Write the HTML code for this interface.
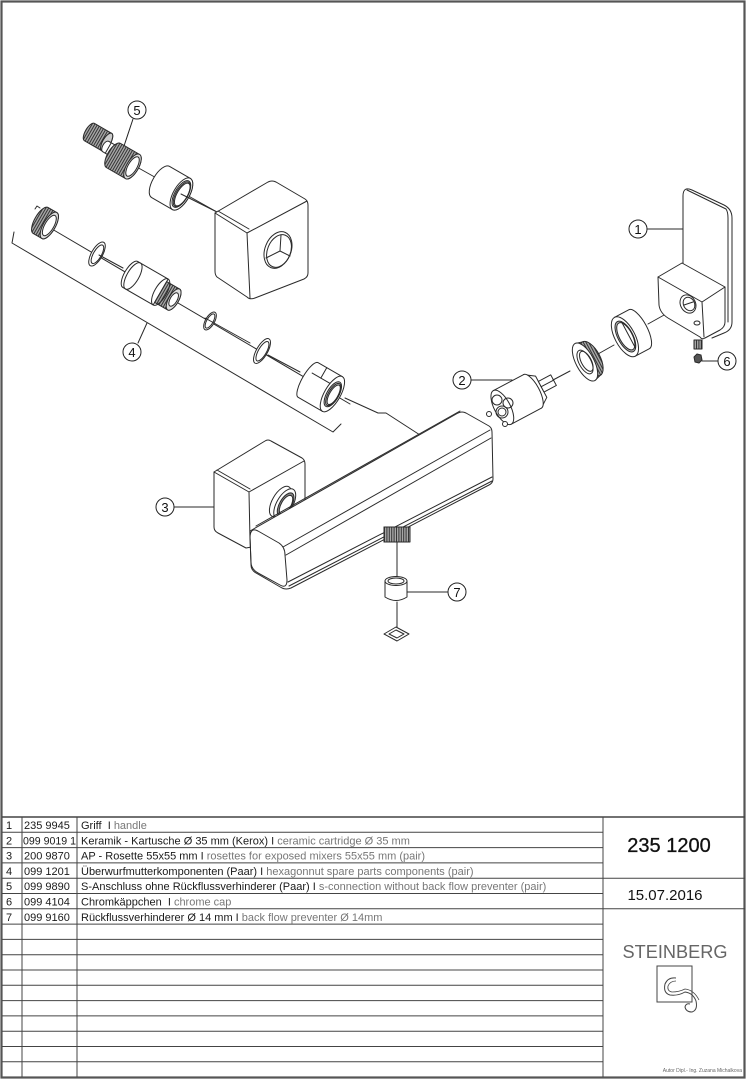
<!DOCTYPE html>
<html><head><meta charset="utf-8"><style>
html,body{margin:0;padding:0;background:#fff;}
svg{display:block;}
text{font-family:"Liberation Sans",Arial,sans-serif;}
</style></head><body>
<svg width="747" height="1080" viewBox="0 0 747 1080" xmlns="http://www.w3.org/2000/svg">
<defs>
<pattern id="th" width="2.4" height="4" patternUnits="userSpaceOnUse">
<rect width="2.4" height="4" fill="#a8a8a8"/><rect width="1" height="4" fill="#333"/>
</pattern>
</defs>
<rect x="0" y="0" width="747" height="1080" fill="#fff"/>
<rect x="1.5" y="1.5" width="743" height="1076" fill="none" stroke="#555" stroke-width="2.2"/>

<g fill="none" stroke="#2a2a2a" stroke-width="1" stroke-linejoin="round" stroke-linecap="round">
<!-- ===== Part 5 ===== -->
<line x1="135" y1="166" x2="217" y2="212"/>
<g transform="translate(98,137) rotate(30)">
<path d="M-10,-10 L10,-10 A4 10 0 0 1 10,10 L-10,10 A4 10 0 0 1 -10,-10 Z" fill="url(#th)"/>
<ellipse cx="10" cy="0" rx="4" ry="10" fill="#ccc"/>
</g>
<g transform="translate(110,149) rotate(30)">
<path d="M-5,-6 L5,-6 A3 6 0 0 1 5,6 L-5,6 A3 6 0 0 1 -5,-6 Z" fill="#fff"/>
<line x1="-2" y1="-6" x2="-2" y2="6"/>
</g>
<g transform="translate(123,161) rotate(30)">
<path d="M-11,-14 L11,-14 A6 14 0 0 1 11,14 L-11,14 A6 14 0 0 1 -11,-14 Z" fill="url(#th)"/>
<ellipse cx="11" cy="0" rx="6" ry="14" fill="#ddd"/>
<ellipse cx="11" cy="0" rx="4.5" ry="11" fill="#fff"/>
</g>
<g transform="translate(171,188) rotate(30)">
<path d="M-12,-18 L12,-18 A8 18 0 0 1 12,18 L-12,18 A8 18 0 0 1 -12,-18 Z" fill="#fff"/>
<ellipse cx="12" cy="0" rx="8" ry="18" fill="#fff"/>
<ellipse cx="12" cy="0" rx="6.5" ry="15" fill="#fff"/>
<ellipse cx="12.5" cy="0" rx="5.8" ry="13.8"/>
<ellipse cx="13" cy="0" rx="5.2" ry="12.8"/>
</g>
<line x1="181" y1="194" x2="217" y2="212"/>

<!-- upper rosette cube -->
<path d="M215,213 L268,182 Q272,180 276,182 L305,199 Q308,201 308,205 L308,273 Q308,277 304,279 L255,298 Q250,300 247,297 L217,277 Q215,275 215,271 Z" fill="#fff"/>
<path d="M215,213 L247,233 L307,201"/>
<path d="M218,211 L249,229"/>
<path d="M247,233 L250,298"/>
<ellipse cx="278" cy="250" rx="13" ry="19" transform="rotate(22 278 250)" fill="#fff"/>
<ellipse cx="279" cy="251" rx="11.5" ry="17" transform="rotate(22 279 251)"/>
<path d="M266,258 L280,251 L290,256 M280,251 L281,235"/>

<!-- ===== Part 4 ===== -->
<path d="M14,232 L12,243 L333,432 L341,424"/>
<line x1="138" y1="343" x2="147" y2="323"/>
<line x1="52" y1="229" x2="350" y2="404"/>
<g transform="translate(45,223) rotate(30)">
<path d="M-5,-15 L5,-15 A6 15 0 0 1 5,15 L-5,15 A6 15 0 0 1 -5,-15 Z" fill="url(#th)"/>
<ellipse cx="5" cy="0" rx="6" ry="15" fill="#ddd"/>
<ellipse cx="5" cy="0" rx="4.5" ry="11.5" fill="#fff"/>
</g>
<path d="M35,209 L37,206 L40,208" />
<g transform="translate(97,254) rotate(30)">
<ellipse cx="0" cy="0" rx="5.5" ry="13.5" fill="#fff"/>
<ellipse cx="0.5" cy="0" rx="4" ry="10.5" fill="#fff"/>
</g>
<line x1="99" y1="255" x2="123" y2="268"/>
<g transform="translate(152,287) rotate(30)">
<path d="M-25,-15 L10,-15 L10,15 L-25,15 A6 15 0 0 1 -25,-15 Z" fill="#fff"/>
<ellipse cx="-22" cy="0" rx="6" ry="15"/>
<path d="M10,-12 L25,-12 A5 12 0 0 1 25,12 L10,12 Z" fill="url(#th)"/>
<ellipse cx="10" cy="0" rx="6" ry="15"/>
<ellipse cx="25" cy="0" rx="5" ry="12" fill="#ddd"/>
<ellipse cx="25" cy="0" rx="3.5" ry="7.5" fill="#fff"/>
</g>
<g transform="translate(210,321) rotate(30)">
<ellipse cx="0" cy="0" rx="4.5" ry="10" fill="#fff"/>
<ellipse cx="0" cy="0" rx="3.2" ry="8"/>
</g>
<line x1="205" y1="318" x2="250" y2="343"/>
<g transform="translate(262,351) rotate(30)">
<ellipse cx="0" cy="0" rx="5.5" ry="14" fill="#fff"/>
<ellipse cx="0.5" cy="0" rx="4" ry="11"/>
</g>
<line x1="268" y1="355" x2="300" y2="372"/>
<g transform="translate(322,388) rotate(30)">
<path d="M-16,-20 L12,-20 L12,20 L-16,20 A6 20 0 0 1 -16,-20 Z" fill="#fff"/>
<line x1="-16" y1="-8" x2="12" y2="-8"/>
<line x1="-6" y1="-20" x2="-6" y2="-8"/>
<ellipse cx="12" cy="0" rx="8" ry="20" fill="#fff"/>
<ellipse cx="12.5" cy="0" rx="6" ry="14" fill="#ccc"/>
<ellipse cx="13" cy="0" rx="5" ry="12.5"/>
<ellipse cx="13.5" cy="0" rx="4.2" ry="11" fill="#fff"/>
</g>

<!-- body behind bar -->
<path d="M345,398 L378,413 L386,413 L420,435"/>

<!-- ===== lower rosette 3 ===== -->
<path d="M214,472 L265,441 Q268,439 271,441 L302,458 Q305,460 305,464 L305,505 L290,540 L246,548 L218,533 Q214,531 214,527 Z" fill="#fff"/>
<path d="M214,472 L249,492 L304,461"/>
<path d="M249,492 L250,540"/>
<path d="M217,470 L250,489"/>
<g transform="translate(283,503) rotate(30)">
<ellipse cx="-3" cy="0" rx="8" ry="17" fill="#fff"/>
<ellipse cx="2" cy="0" rx="8" ry="17" fill="#fff"/>
<ellipse cx="3" cy="0" rx="6" ry="13" fill="#888"/>
<ellipse cx="3.5" cy="0" rx="4.8" ry="10.5" fill="#fff"/>
</g>
<line x1="173" y1="507" x2="214" y2="507"/>

<!-- ===== main bar ===== -->
<path d="M250,531 L458,413 Q462,411 466,413 L489,426 Q492,428 492,432 L493,479 Q493,483 489,485 L291,588 Q286,590 282,588 L256,573 Q251,570 251,565 L250,536 Q250,532 250,531 Z" fill="#fff"/>
<path d="M258,531 L279,543 Q285,547 285,555 L287,580 Q287,589 280,585 L258,573 Q251,569 251,562 L250,538 Q250,527 258,531 Z"/>
<line x1="256" y1="526" x2="460" y2="411"/>
<line x1="283" y1="547" x2="490" y2="430"/>
<line x1="286" y1="555" x2="491" y2="438"/>
<line x1="288" y1="582" x2="492" y2="477"/>
<line x1="289" y1="586" x2="492" y2="481"/>

<!-- outlet + part 7 -->
<rect x="384" y="527" width="26" height="15" fill="url(#th)"/>
<line x1="384" y1="527" x2="384" y2="542"/><line x1="410" y1="527" x2="410" y2="540"/>
<line x1="397" y1="542" x2="397" y2="578"/>
<path d="M385,581 L385,597 Q396,604 407,597 L407,581" fill="#fff"/>
<ellipse cx="396" cy="581" rx="11" ry="4.5" fill="#fff"/>
<ellipse cx="396" cy="581" rx="8" ry="3"/>
<line x1="407" y1="592" x2="448" y2="592"/>
<line x1="397" y1="602" x2="397" y2="629"/>
<path d="M384,634 L396,627 L409,634 L397,641 Z" fill="#fff"/>
<path d="M389,634 L396,630 L404,634 L397,638 Z"/>

<!-- ===== cartridge 2 ===== -->
<line x1="470" y1="380" x2="512" y2="380"/>
<g transform="translate(520,398) rotate(-28)">
<path d="M14,-19 L24,-12 L24,12 L14,19 Z" fill="#fff"/>
<rect x="24" y="-6" width="14" height="12" fill="#fff"/>
<line x1="24" y1="0" x2="38" y2="0"/>
<path d="M-20,-19 L14,-19 A7 19 0 0 1 14,19 L-20,19 Z" fill="#fff"/>
<ellipse cx="-20" cy="0" rx="8" ry="19" fill="#fff"/>
</g>
<ellipse cx="497" cy="400" rx="5" ry="5"/>
<ellipse cx="508" cy="403" rx="5" ry="5"/>
<ellipse cx="502" cy="412" rx="6" ry="6"/>
<ellipse cx="502" cy="412" rx="4" ry="4"/>
<circle cx="489" cy="414" r="2.5" fill="#fff"/>
<circle cx="505" cy="424" r="2.5" fill="#fff"/>
<line x1="553" y1="380" x2="570" y2="371"/>

<!-- flange washer -->
<g transform="translate(585,362) rotate(-28)">
<ellipse cx="7" cy="0" rx="9" ry="19" fill="url(#th)"/>
<path d="M0,-21 L7,-19 M0,21 L7,19"/>
<ellipse cx="0" cy="0" rx="9" ry="21" fill="#fff"/>
<ellipse cx="0" cy="0" rx="6" ry="13" fill="#fff"/>
<ellipse cx="1.5" cy="0" rx="5" ry="11"/>
</g>
<line x1="598" y1="354" x2="614" y2="345"/>

<!-- ring nut -->
<g transform="translate(632,333) rotate(-28)">
<path d="M-8,-22 L8,-22 A8 22 0 0 1 8,22 L-8,22 Z" fill="#fff"/>
<ellipse cx="-8" cy="0" rx="10" ry="22" fill="#fff"/>
<ellipse cx="-7.5" cy="0" rx="7.5" ry="17" fill="#bbb"/>
<ellipse cx="-7" cy="0" rx="6.5" ry="15" fill="#fff"/>
<line x1="-4" y1="-15" x2="-4" y2="15"/>
</g>
<line x1="648" y1="324" x2="682" y2="305"/>

<!-- ===== handle 1 ===== -->
<path d="M683,268 L683,196 Q683,186 692,190 L724,205 Q732,209 732,218 L732,322 Q732,330 724,333 L712,338" fill="#fff"/>
<path d="M687,190 L726,209 Q728,212 728,218 L728,322"/>
<line x1="647" y1="229" x2="683" y2="229"/>
<path d="M658,277 L682,263 L725,287 L725,322 Q725,327 720,330 L705,338 Q702,340 700,337 L668,318 Q660,313 659,305 Z" fill="#fff"/>
<path d="M658,277 L702,302 L725,287 M702,302 L704,337"/>
<ellipse cx="688" cy="304" rx="7.5" ry="9.5" transform="rotate(-28 688 304)" fill="#fff"/>
<ellipse cx="689" cy="304" rx="5.5" ry="7" transform="rotate(-28 689 304)"/>
<path d="M684,305 L693,302"/>
<ellipse cx="697" cy="323" rx="3" ry="2"/>
<rect x="694" y="340" width="8" height="9" fill="url(#th)"/>
<path d="M694,357 L697,354 L701,355 L702,360 L699,363 L695,362 Z" fill="#555"/>
<line x1="702" y1="361" x2="718" y2="361"/>
</g>

<!-- labels -->
<g fill="#fff" stroke="#222" stroke-width="1">
<circle cx="638" cy="229" r="9"/>
<circle cx="462" cy="380" r="9"/>
<circle cx="165" cy="507" r="9"/>
<circle cx="132" cy="352" r="9"/>
<circle cx="137" cy="110" r="9"/>
<circle cx="727" cy="361" r="9"/>
<circle cx="457" cy="592" r="9"/>
</g>
<line x1="133" y1="119" x2="124" y2="146" stroke="#222" stroke-width="1"/>
<g font-size="13" text-anchor="middle" fill="#111">
<text x="638" y="234">1</text>
<text x="462" y="385">2</text>
<text x="165" y="512">3</text>
<text x="132" y="357">4</text>
<text x="137" y="115">5</text>
<text x="727" y="366">6</text>
<text x="457" y="597">7</text>
</g>

<!-- ===== table ===== -->
<g stroke="#444" stroke-width="1">
<line x1="2" y1="817" x2="745" y2="817" stroke-width="1.5"/>
<line x1="2" y1="832.3" x2="603" y2="832.3"/>
<line x1="2" y1="847.6" x2="603" y2="847.6"/>
<line x1="2" y1="862.9" x2="603" y2="862.9"/>
<line x1="2" y1="878.2" x2="745" y2="878.2"/>
<line x1="2" y1="893.5" x2="603" y2="893.5"/>
<line x1="2" y1="908.8" x2="745" y2="908.8"/>
<line x1="2" y1="924.1" x2="603" y2="924.1"/>
<line x1="2" y1="939.4" x2="603" y2="939.4"/>
<line x1="2" y1="954.7" x2="603" y2="954.7"/>
<line x1="2" y1="970" x2="603" y2="970"/>
<line x1="2" y1="985.3" x2="603" y2="985.3"/>
<line x1="2" y1="1000.6" x2="603" y2="1000.6"/>
<line x1="2" y1="1015.9" x2="603" y2="1015.9"/>
<line x1="2" y1="1031.2" x2="603" y2="1031.2"/>
<line x1="2" y1="1046.5" x2="603" y2="1046.5"/>
<line x1="2" y1="1061.8" x2="603" y2="1061.8"/>
<line x1="22" y1="817" x2="22" y2="1077"/>
<line x1="77" y1="817" x2="77" y2="1077"/>
<line x1="603" y1="817" x2="603" y2="1077"/>
</g>
<g font-size="11" fill="#1a1a1a">
<text x="6" y="829">1</text><text x="24" y="829">235 9945</text>
<text x="81" y="829">Griff&#160; I <tspan fill="#777">handle</tspan></text>
<text x="6" y="844.3">2</text><text x="23" y="844.3" textLength="53" lengthAdjust="spacingAndGlyphs">099 9019 1</text>
<text x="81" y="844.3">Keramik - Kartusche Ø 35 mm (Kerox) I <tspan fill="#777">ceramic cartridge Ø 35 mm</tspan></text>
<text x="6" y="859.6">3</text><text x="24" y="859.6">200 9870</text>
<text x="81" y="859.6">AP - Rosette 55x55 mm I <tspan fill="#777">rosettes for exposed mixers 55x55 mm (pair)</tspan></text>
<text x="6" y="874.9">4</text><text x="24" y="874.9">099 1201</text>
<text x="81" y="874.9">Überwurfmutterkomponenten (Paar) I <tspan fill="#777">hexagonnut spare parts components (pair)</tspan></text>
<text x="6" y="890.2">5</text><text x="24" y="890.2">099 9890</text>
<text x="81" y="890.2">S-Anschluss ohne Rückflussverhinderer (Paar) I <tspan fill="#777">s-connection without back flow preventer (pair)</tspan></text>
<text x="6" y="905.5">6</text><text x="24" y="905.5">099 4104</text>
<text x="81" y="905.5">Chromkäppchen&#160; I <tspan fill="#777">chrome cap</tspan></text>
<text x="6" y="920.8">7</text><text x="24" y="920.8">099 9160</text>
<text x="81" y="920.8">Rückflussverhinderer Ø 14 mm I <tspan fill="#777">back flow preventer Ø 14mm</tspan></text>
</g>
<text x="669" y="852" font-size="20" text-anchor="middle" fill="#111" stroke="#111" stroke-width="0.3">235 1200</text>
<text x="665" y="900" font-size="15" text-anchor="middle" fill="#111">15.07.2016</text>
<text x="675" y="958" font-size="18.5" text-anchor="middle" fill="#666" textLength="105" lengthAdjust="spacingAndGlyphs">STEINBERG</text>
<rect x="657" y="966" width="35" height="36" fill="none" stroke="#444" stroke-width="1"/>
<path d="M676,978 Q668,977 665,984 Q663,993 670,995 Q678,996 685,992 Q693,993 696,1001 Q698,1010 692,1012 Q686,1012 685,1007 Q686,1003 690,1004" fill="none" stroke="#444" stroke-width="1"/>
<path d="M676,981 Q670,981 668,986 Q667,991 672,992 Q679,992 685,989 Q694,990 699,1000" fill="none" stroke="#444" stroke-width="0.8"/>
<text x="742" y="1072" font-size="5" text-anchor="end" fill="#666">Autor Dipl.- Ing. Zuzana Michalkova</text>
</svg>
</body></html>
